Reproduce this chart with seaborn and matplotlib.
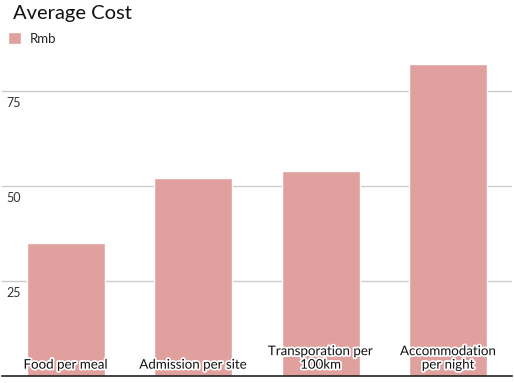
import matplotlib
matplotlib.use("Agg")
import matplotlib.pyplot as plt
import matplotlib.patheffects as pe
from matplotlib.patches import Patch
import seaborn as sns
import pandas as pd

categories = ["Food per meal", "Admission per site", "Transporation per\n100km", "Accommodation\nper night"]
values = [35, 52, 54, 82]
yticks = [25, 50, 75]
series_name = "Rmb"
title = "Average Cost"
bar_color = "#e0a19e"

sns.set_theme(style="white")
plt.rcParams['font.family'] = ['Lato', 'DejaVu Sans']

df = pd.DataFrame({"cat": categories, "val": values})

fig = plt.figure(figsize=(5.14, 3.83), dpi=100)
ax = fig.add_axes([2/514, 1 - 376/383, 510/514, (376 - 40)/383])
sns.barplot(data=df, x="cat", y="val", color=bar_color, width=0.61, saturation=1, ax=ax, zorder=2)
ax.set_xlim(-0.5, 3.5)
ymax = (376 - 40) / 3.8
ax.set_ylim(0, ymax)
ax.set_xlabel("")
ax.set_ylabel("")
ax.set_xticks([])
ax.set_yticks([])
for t in yticks:
    ax.axhline(t, color="#cccccc", lw=1, zorder=1)
    ax.text(0.008, t - 1.5, str(t), transform=ax.get_yaxis_transform(), ha="left", va="top",
            fontsize=9, color="#333333")
for s in ["top", "right", "left"]:
    ax.spines[s].set_visible(False)
ax.spines["bottom"].set_color("#222222")
ax.spines["bottom"].set_linewidth(1.2)

for i, c in enumerate(categories):
    ax.text(i, 1.4, c, ha="center", va="bottom", fontsize=9.6, color="#111111", zorder=5,
            linespacing=1.15,
            path_effects=[pe.withStroke(linewidth=2.5, foreground="white")])

fig.text(13/514, 1 - 5/383, title, ha="left", va="top", fontsize=14.5, color="#111111")
fig.legend(handles=[Patch(facecolor=bar_color, label=series_name)], loc="upper left",
           bbox_to_anchor=(-1/514, 1 - 23/383), frameon=False, fontsize=9.5,
           handlelength=1.0, handleheight=1.0, handletextpad=0.6, borderpad=0.2)

fig.savefig("out.png", dpi=100)
